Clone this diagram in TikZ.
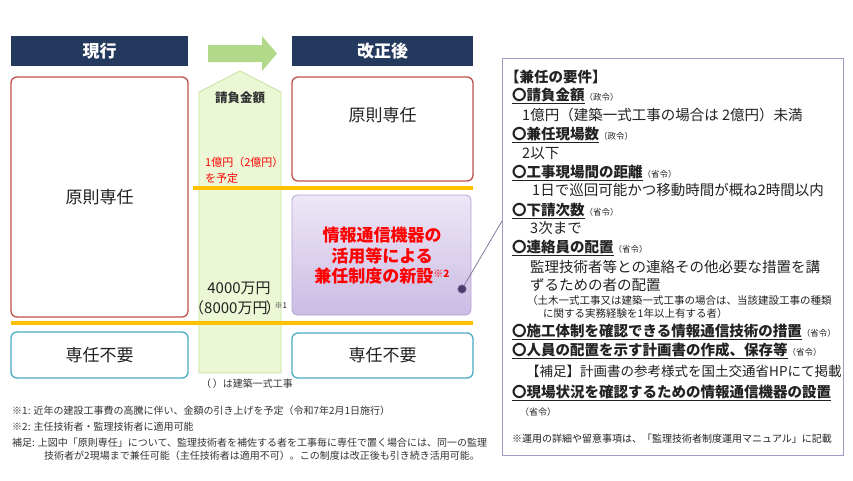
\documentclass[tikz,border=0pt]{standalone}
\usepackage{fontspec}
\setmainfont{Noto Sans CJK JP}
\newcommand\myfs[1]{\fontsize{#1}{#1}\selectfont}
\definecolor{navy}{RGB}{35,57,94}
\definecolor{boxred}{RGB}{192,80,77}
\definecolor{boxblue}{RGB}{75,172,198}
\definecolor{orng}{RGB}{255,192,0}
\definecolor{arrgreen}{RGB}{178,216,138}
\definecolor{colfill}{RGB}{236,247,214}
\definecolor{colline}{RGB}{197,225,160}
\definecolor{purtop}{RGB}{238,231,247}
\definecolor{purbot}{RGB}{202,188,228}
\definecolor{purline}{RGB}{180,163,212}
\definecolor{reqline}{RGB}{165,150,196}
\definecolor{dotfill}{RGB}{75,61,110}
\definecolor{txt}{RGB}{34,34,34}
\definecolor{note}{RGB}{51,51,51}
\definecolor{redtxt}{RGB}{255,0,0}
\newcommand\reqhead[2]{\underline{\bfseries 〇#1}{\myfs{8.5}（#2）}}
\begin{document}
\begin{tikzpicture}[x=1pt,y=-1pt,
  hdr/.style={fill=navy,draw=none,text=white,font=\myfs{17}\bfseries,inner sep=0pt},
  redbox/.style={draw=boxred,line width=1.3pt,rounded corners=6pt,fill=white,inner sep=0pt,font=\myfs{17},text=txt},
  bluebox/.style={draw=boxblue,line width=1.3pt,rounded corners=6pt,fill=white,inner sep=0pt,font=\myfs{17},text=txt},
  purbox/.style={draw=purline,line width=0.8pt,rounded corners=5pt,top color=purtop,bottom color=purbot,inner sep=0pt},
  reqbox/.style={draw=reqline,line width=1pt,fill=white,inner sep=0pt},
  orline/.style={draw=orng,line width=4pt},
  lbl/.style={inner sep=0pt,text=txt},
  rq/.style={inner sep=0pt,anchor=base west,text=txt,font=\myfs{14.5}},
  rqs/.style={inner sep=0pt,anchor=base west,text=txt,font=\myfs{10.5}},
  fn/.style={inner sep=0pt,anchor=base west,text=note,font=\myfs{10}},
]
\useasboundingbox (0,0) rectangle (853,480);
\fill[white] (0,0) rectangle (853,480);

% headers
\node[hdr,minimum width=177pt,minimum height=30pt] (hcur) at (99.5,51) {現行};
\node[hdr,minimum width=181pt,minimum height=30pt] (hnew) at (382.5,51) {改正後};

% green arrow
\fill[arrgreen] (208,45) -- (262,45) -- (262,36) -- (277,53.5) -- (262,71) -- (262,62) -- (208,62) -- cycle;

% vertical column
\draw[colline,fill=colfill,line width=0.8pt] (199,373) -- (199,92) -- (240,71) -- (281,92) -- (281,373) -- cycle;

% left boxes
\node[redbox,minimum width=177pt,minimum height=240pt] (lred) at (99.5,197) {原則専任};
\node[bluebox,minimum width=177pt,minimum height=46pt] (lblue) at (99.5,355) {専任不要};

% right boxes
\node[redbox,minimum width=181pt,minimum height=104pt] (rred) at (382.5,129) {};
\node[lbl,font=\myfs{17}] (rredt) at (382.5,115) {原則専任};
\node[purbox,minimum width=179pt,minimum height=120pt] (pur) at (381.5,255) {};
\node[inner sep=0pt,text=redtxt,font=\myfs{17}\bfseries,align=center] (purt) at (382,256)
  {情報通信機器の\\[3.5pt]活用等による\\[3.5pt]兼任制度の新設\raisebox{5pt}{\myfs{10}※2}};
\node[bluebox,minimum width=181pt,minimum height=45pt] (rblue) at (382.5,355.5) {専任不要};

% orange lines
\coordinate (oa1) at (193,188);
\coordinate (ob1) at (473,188);
\coordinate (oa2) at (11,323);
\coordinate (ob2) at (473,323);
\draw[orline] (oa1) -- (ob1);
\draw[orline] (oa2) -- (ob2);

% column texts
\node[lbl,font=\myfs{12.5}\bfseries,text=note] (cg) at (240,98) {請負金額};
\node[lbl,anchor=base west,font=\myfs{11},text=redtxt] (cr1) at (205,166) {1億円（2億円）};
\node[lbl,anchor=base west,font=\myfs{11},text=redtxt] (cr2) at (205,182) {を予定};
\node[lbl,font=\myfs{15}] (cm1) at (239,288) {4000万円};
\node[lbl,font=\myfs{15},anchor=west] (cm2) at (193,308) {\kern-4pt（8000万円\kern-2pt）\kern-6pt\raisebox{5pt}{\myfs{8}※1}};
\node[lbl,font=\myfs{10},text=note] (cnote) at (247,384) {（\,）は建築一式工事};

% requirements box
\node[reqbox,minimum width=341pt,minimum height=397pt] (req) at (672.5,256.5) {};
\node[rq] (r0) at (505,82) {\bfseries 【兼任の要件】};
\node[rq] (r1) at (512,100) {\reqhead{請負金額}{政令}};
\node[rq] (r2) at (522,120) {1億円（建築一式工事の場合は 2億円）未満};
\node[rq] (r3) at (512,139) {\reqhead{兼任現場数}{政令}};
\node[rq] (r4) at (522,158) {2以下};
\node[rq] (r5) at (512,177) {\reqhead{工事現場間の距離}{省令}};
\node[rq] (r6) at (532,195) {1日で巡回可能かつ移動時間が概ね2時間以内};
\node[rq] (r7) at (512,215) {\reqhead{下請次数}{省令}};
\node[rq] (r8) at (530,233) {3次まで};
\node[rq] (r9) at (512,252) {\reqhead{連絡員の配置}{省令}};
\node[rq] (r10) at (530,272) {監理技術者等との連絡その他必要な措置を講};
\node[rq] (r11) at (530,290) {ずるための者の配置};
\node[rqs] (r12) at (527,304) {（土木一式工事又は建築一式工事の場合は、当該建設工事の種類};
\node[rqs] (r13) at (543,317) {に関する実務経験を1年以上有する者）};
\node[rq] (r14) at (512,336) {\reqhead{施工体制を確認できる情報通信技術の措置}{省令}};
\node[rq] (r15) at (512,355) {\reqhead{人員の配置を示す計画書の作成、保存等}{省令}};
\node[rq,font=\myfs{13.5}] (r16) at (526,376) {【補足】計画書の参考様式を国土交通省HPにて掲載};
\node[rq] (r17) at (512,397) {\underline{\bfseries 〇現場状況を確認するための情報通信機器の設置}};
\node[rq,font=\myfs{9}] (r18) at (520,415) {（省令）};
\node[rqs,font=\myfs{10}] (r19) at (512,442) {※運用の詳細や留意事項は、「監理技術者制度運用マニュアル」に記載};

% connector dot
\node[circle,fill=dotfill,draw=purline,line width=0.5pt,minimum size=9pt,inner sep=0pt] (dot) at (462,289) {};
\coordinate (lend) at (502,221);
\draw[reqline!80!black,line width=0.8pt] (dot) -- (lend);

% footnotes
\node[fn] (f1) at (12,414) {※1: 近年の建設工事費の高騰に伴い、金額の引き上げを予定（令和7年2月1日施行）};
\node[fn] (f2) at (12,430) {※2: 主任技術者・監理技術者に適用可能};
\node[fn] (f3) at (12,446) {補足: 上図中「原則専任」について、監理技術者を補佐する者を工事毎に専任で置く場合には、同一の監理};
\node[fn] (f4) at (44,459) {技術者が2現場まで兼任可能（主任技術者は適用不可）。この制度は改正後も引き続き活用可能。};
\end{tikzpicture}
\end{document}
